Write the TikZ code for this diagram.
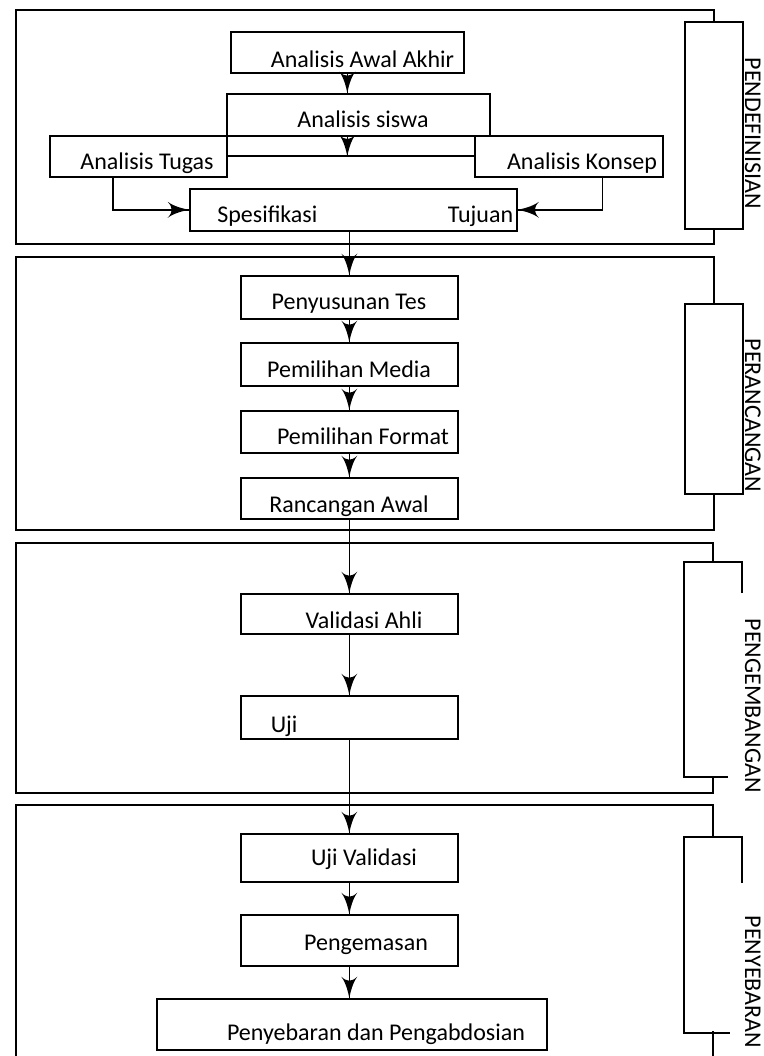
\documentclass[tikz,border=0pt]{standalone}
\usepackage{fontspec}
\setmainfont{Carlito}
\usetikzlibrary{arrows}
\usetikzlibrary{decorations.markings}
\usetikzlibrary{positioning}
\tikzset{->/.style = {decoration={markings,
                                  mark=at position 1 with {\arrow[scale=2.8]{latex'}}},
                      postaction={decorate}}}
\tikzset{kotak/.style = {draw, rectangle, inner sep=0pt, anchor=north west}}
\tikzset{teks/.style = {anchor=base, inner sep=0pt, font=\fontsize{24}{28}\selectfont}}

\begin{document}
\begin{tikzpicture}[x=1pt, y=-1pt, line width=1.6pt]
    \useasboundingbox (0, 0) rectangle (763, 1056);
    % pendefinisian
    \node [kotak, minimum width=233, minimum height=41] (awal) at (230, 31) {};
    \node [kotak, minimum width=263, minimum height=42] (siswa) at (226, 93) {};
    \node [kotak, minimum width=177, minimum height=41] (tugas) at (49, 135) {};
    \node [kotak, minimum width=188, minimum height=41] (konsep) at (474, 135) {};
    \node [kotak, minimum width=327, minimum height=42] (spes) at (189, 188) {};
    \node [kotak, minimum width=58, minimum height=207] (kotakdef) at (684, 21) {};
    \node [teks] (tawal) at (362.5, 68) {Analisis Awal Akhir};
    \node [teks] (tsiswa) at (363, 128) {Analisis siswa};
    \node [teks] (ttugas) at (147, 170) {Analisis Tugas};
    \node [teks] (tkonsep) at (582, 170) {Analisis Konsep};
    \node [teks, anchor=base west] (tspes) at (216.5, 223) {Spesifikasi};
    \node [teks, anchor=base east] (ttujuan) at (514, 223) {Tujuan};
    \node [teks, rotate=-90, anchor=base west] (ldef) at (745, 57) {PENDEFINISIAN};
    \coordinate (temu) at (awal.south |- tugas.east);
    \draw [->] (awal.south) -- (awal.south |- siswa.north);
    \draw (tugas.east) -- (konsep.west);
    \draw [->] (awal.south |- siswa.south) -- (temu);
    \draw [->] ([xshift=64pt]tugas.south west) |- (spes.west);
    \draw [->] ([xshift=-61pt]konsep.south east) |- (spes.east);
    \draw (kotakdef.north) -- ++(0, -11) -| (16, 244) -| (kotakdef.south);

    % perancangan
    \node [kotak, minimum width=217, minimum height=43] (tes) at (240, 275) {};
    \node [kotak, minimum width=217, minimum height=43] (media) at (240, 342) {};
    \node [kotak, minimum width=217, minimum height=42] (format) at (240, 410) {};
    \node [kotak, minimum width=217, minimum height=41] (rancangan) at (240, 477) {};
    \node [kotak, minimum width=58, minimum height=190] (kotakran) at (684, 303) {};
    \node [teks] (ttes) at (349, 309) {Penyusunan Tes};
    \node [teks] (tmedia) at (349, 377) {Pemilihan Media};
    \node [teks] (tformat) at (363, 444) {Pemilihan Format};
    \node [teks] (trancangan) at (349, 512) {Rancangan Awal};
    \node [teks, rotate=-90, anchor=base west] (lran) at (745, 338) {PERANCANGAN};
    \draw [->] (spes.south -| tes.north) -- (tes.north);
    \draw [->] (tes.south) -- (media.north);
    \draw [->] (media.south) -- (format.north);
    \draw [->] (format.south) -- (rancangan.north);
    \draw (kotakran.north) -- ++(0, -46) -| (16, 530) -| (kotakran.south);

    % pengembangan
    \node [kotak, minimum width=217, minimum height=40] (validasi) at (240, 593) {};
    \node [kotak, minimum width=217, minimum height=43] (uji) at (240, 695) {};
    \node [teks] (tvalidasi) at (364, 628) {Validasi Ahli};
    \node [teks, anchor=base west] (tuji) at (270, 732) {Uji};
    \node [teks, rotate=-90, anchor=base west] (lkem) at (745, 618) {PENGEMBANGAN};
    \draw [->] (rancangan.south) -- (validasi.north);
    \draw [->] (validasi.south) -- (uji.north);
    \draw (742, 593) -- (742, 562) -- (684, 562) -- (684, 777) -- (728, 777);
    \draw (713, 562) -- (713, 543) -| (16, 793) -| (713, 777);

    % penyebaran
    \node [kotak, minimum width=217, minimum height=48] (ujival) at (240, 833) {};
    \node [kotak, minimum width=217, minimum height=51] (kemas) at (240, 914) {};
    \node [kotak, minimum width=390, minimum height=51] (sebar) at (156, 998) {};
    \node [teks] (tujival) at (364, 865) {Uji Validasi};
    \node [teks] (tkemas) at (366, 950) {Pengemasan};
    \node [teks] (tsebar) at (376, 1040) {Penyebaran dan Pengabdosian};
    \node [teks, rotate=-90, anchor=base west] (lbar) at (745, 915) {PENYEBARAN};
    \draw [->] (uji.south) -- (ujival.north);
    \draw [->] (ujival.south) -- (kemas.north);
    \draw [->] (kemas.south) -- (kemas.south |- sebar.north);
    \draw (742, 883) -- (742, 837) -- (684, 837) -- (684, 1033) -- (730, 1033);
    \draw (713, 837) -- (713, 805) -| (16, 1056);
    \draw (713, 1031) -- (713, 1056);
  \end{tikzpicture}
\end{document}
